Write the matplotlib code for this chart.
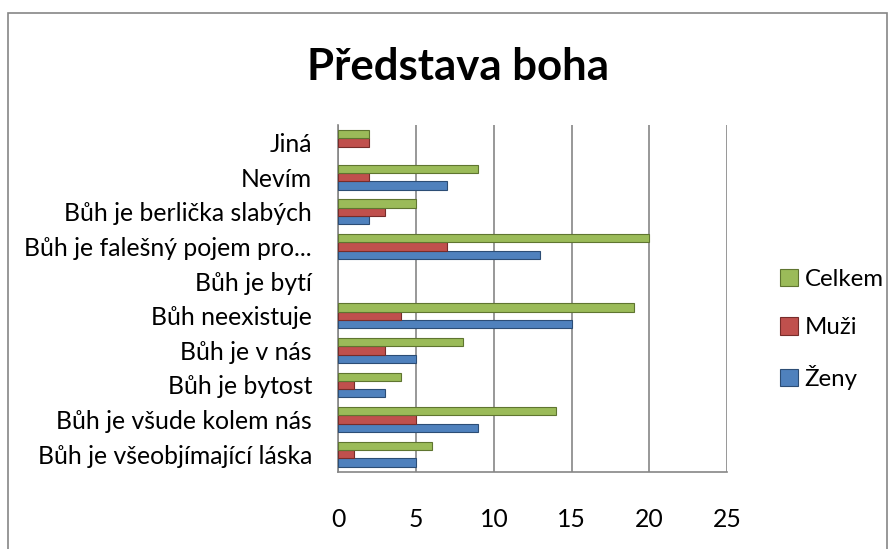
import numpy as np
import matplotlib.pyplot as plt
from matplotlib.patches import Rectangle

categories = ["Bůh je všeobjímající láska", "Bůh je všude kolem nás", "Bůh je bytost",
              "Bůh je v nás", "Bůh neexistuje", "Bůh je bytí",
              "Bůh je falešný pojem pro...", "Bůh je berlička slabých", "Nevím", "Jiná"]
zeny = [5, 9, 3, 5, 15, 0, 13, 2, 7, 0]
muzi = [1, 5, 1, 3, 4, 0, 7, 3, 2, 2]
celkem = [6, 14, 4, 8, 19, 0, 20, 5, 9, 2]

plt.rcParams['font.family'] = ['Lato', 'DejaVu Sans']

fig = plt.figure(figsize=(8.95, 5.49), dpi=100)
ax = fig.add_axes([0.378, 0.141, 0.4344, 0.631])

y = np.arange(len(categories))
h = 0.24

def lw(vals):
    return [0.8 if v > 0 else 0 for v in vals]

ax.barh(y - h, zeny, height=h, color='#4F81BD', edgecolor='#2C4D75', linewidth=lw(zeny), label='Ženy', zorder=3)
ax.barh(y, muzi, height=h, color='#C0504D', edgecolor='#772C2A', linewidth=lw(muzi), label='Muži', zorder=3)
ax.barh(y + h, celkem, height=h, color='#9BBB59', edgecolor='#5F7530', linewidth=lw(celkem), label='Celkem', zorder=3)

ax.set_xlim(0, 25)
ax.set_ylim(-0.5, 9.5)
ax.set_xticks(range(0, 26, 5))
ax.set_yticks(y)
ax.set_yticklabels(categories)
ax.tick_params(axis='both', length=0, labelsize=17.8)
ax.tick_params(axis='y', pad=19)
ax.tick_params(axis='x', pad=26)
ax.grid(axis='x', color='#868686', linewidth=1.2, zorder=0)
for s in ['top', 'right']:
    ax.spines[s].set_visible(False)
for s in ['left', 'bottom']:
    ax.spines[s].set_color('#868686')
    ax.spines[s].set_linewidth(1.2)

handles, labels = ax.get_legend_handles_labels()
fig.legend(handles[::-1], labels[::-1], loc='center left', bbox_to_anchor=(0.871, 0.40),
           frameon=False, fontsize=17.3, labelspacing=1.12, handlelength=0.75,
           handleheight=0.75, handletextpad=0.3, borderpad=0, borderaxespad=0)

fig.text(0.512, 0.878, "Představa boha", ha='center', va='center', fontsize=31.5, fontweight='bold')

fig.patches.append(Rectangle((0.009, -0.01), 0.982, 0.987, transform=fig.transFigure,
                             fill=False, edgecolor='#868686', linewidth=1.2))

fig.savefig('out.png', dpi=100)
